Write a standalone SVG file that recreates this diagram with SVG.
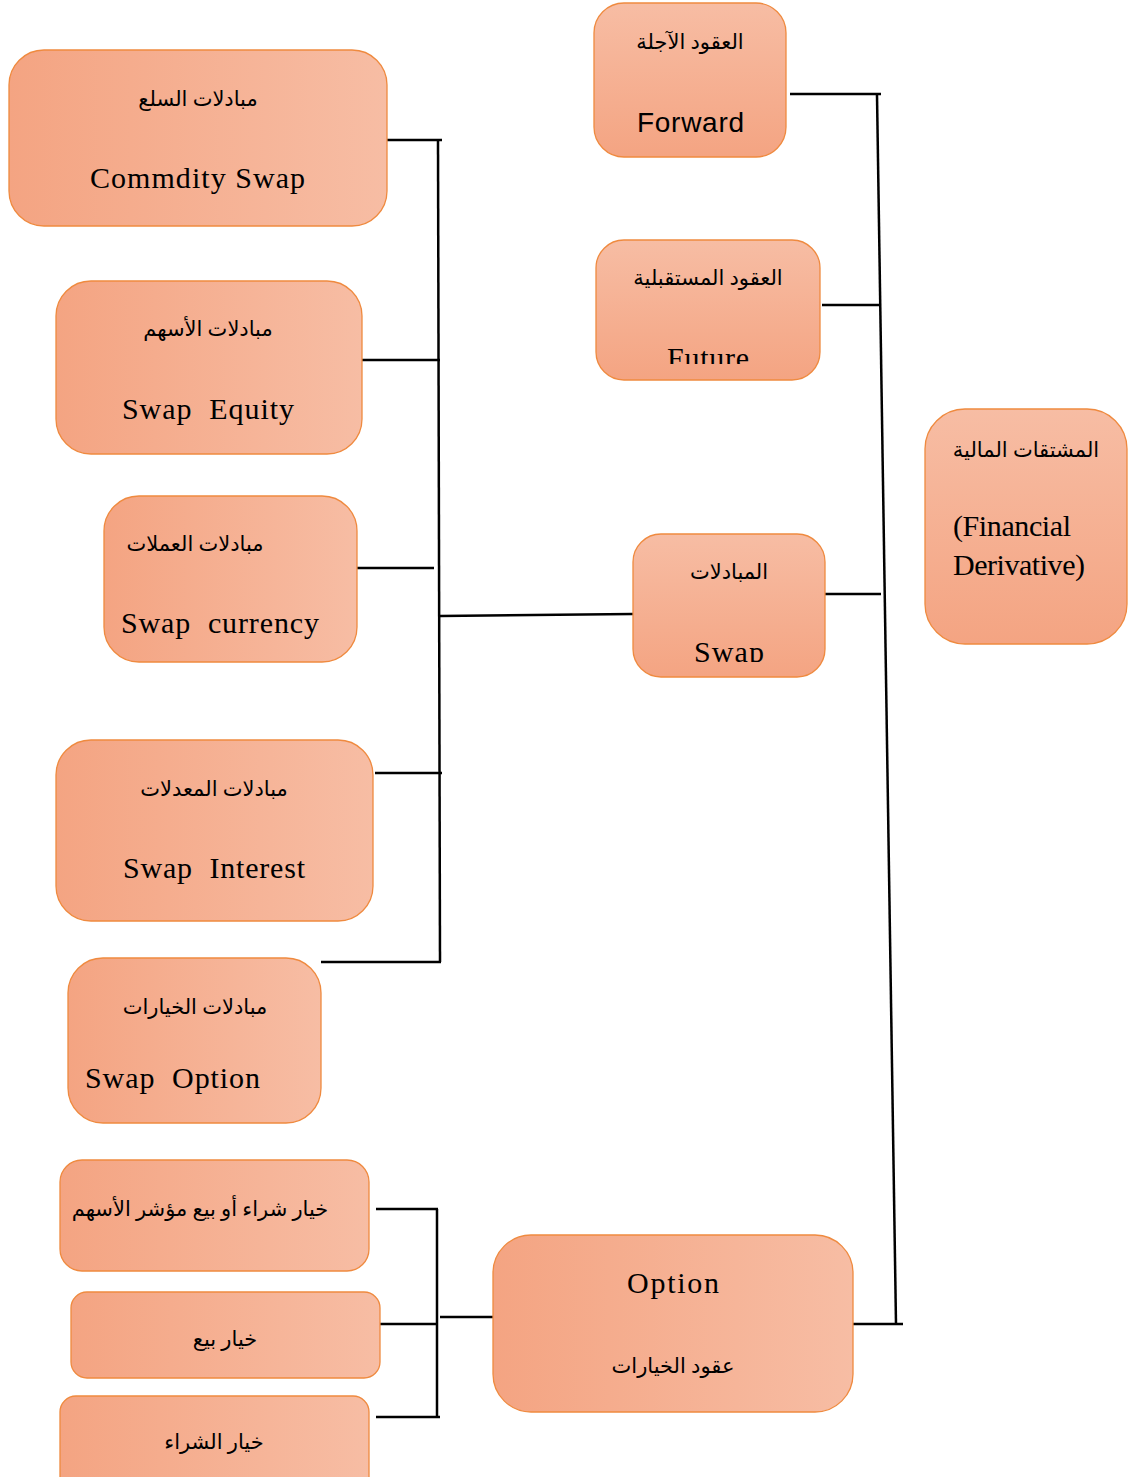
<svg xmlns="http://www.w3.org/2000/svg" width="1138" height="1477" viewBox="0 0 1138 1477">
<defs>
<linearGradient id="gh" x1="0" y1="0" x2="1" y2="0"><stop offset="0" stop-color="#F4A482"/><stop offset="1" stop-color="#F7BDA4"/></linearGradient>
<linearGradient id="gv" x1="0" y1="0" x2="0" y2="1"><stop offset="0" stop-color="#F7BDA4"/><stop offset="1" stop-color="#F4A482"/></linearGradient>
<clipPath id="cFut"><rect x="596" y="240" width="224" height="124"/></clipPath>
<clipPath id="cSwp"><rect x="633" y="534" width="192" height="128"/></clipPath>
</defs>
<style>
.h{fill:url(#gh);stroke:#EF8A3F;stroke-width:1.3}
.v{fill:url(#gv);stroke:#EF8A3F;stroke-width:1.3}
.ar{font-family:"Liberation Serif","DejaVu Sans",serif;font-size:21px;fill:#000;text-anchor:middle}
.en{font-family:"Liberation Serif",serif;font-size:30px;fill:#000}
.sa{font-family:"Liberation Sans",sans-serif;font-size:28px;fill:#000}
.c{stroke:#000;stroke-width:2.5;fill:none}
</style>
<rect width="1138" height="1477" fill="#fff"/>
<g id="connectors">
<line class="c" x1="387" y1="140" x2="442" y2="140"/>
<line class="c" x1="438" y1="141" x2="440" y2="962"/>
<line class="c" x1="362" y1="360" x2="440" y2="360"/>
<line class="c" x1="352" y1="568" x2="434" y2="568"/>
<line class="c" x1="440" y1="616" x2="633" y2="614"/>
<line class="c" x1="375" y1="773" x2="442" y2="773"/>
<line class="c" x1="321" y1="962" x2="441" y2="962"/>
<line class="c" x1="790" y1="94" x2="881" y2="94"/>
<line class="c" x1="877" y1="95" x2="896" y2="1324"/>
<line class="c" x1="822" y1="305" x2="881" y2="305"/>
<line class="c" x1="825" y1="594" x2="881" y2="594"/>
<line class="c" x1="853" y1="1324" x2="903" y2="1324"/>
<line class="c" x1="376" y1="1209" x2="438" y2="1209"/>
<line class="c" x1="437" y1="1209" x2="437" y2="1417"/>
<line class="c" x1="380" y1="1324" x2="437" y2="1324"/>
<line class="c" x1="376" y1="1417" x2="440" y2="1417"/>
<line class="c" x1="440" y1="1317" x2="496" y2="1317"/>
</g>
<g id="commodity-swap">
<rect class="h" x="9" y="50" width="378" height="176" rx="35"/>
<text class="ar" x="198" y="106">مبادلات السلع</text>
<text class="en" x="90" y="188" textLength="215" lengthAdjust="spacing">Commdity Swap</text>
</g>
<g id="swap-equity">
<rect class="h" x="56" y="281" width="306" height="173" rx="35"/>
<text class="ar" x="208" y="336">مبادلات الأسهم</text>
<text class="en" x="122" y="419" textLength="172" lengthAdjust="spacing" xml:space="preserve">Swap  Equity</text>
</g>
<g id="swap-currency">
<rect class="h" x="104" y="496" width="253" height="166" rx="35"/>
<text class="ar" x="195" y="551">مبادلات العملات</text>
<text class="en" x="121" y="633" textLength="198" lengthAdjust="spacing" xml:space="preserve">Swap  currency</text>
</g>
<g id="swap-interest">
<rect class="h" x="56" y="740" width="317" height="181" rx="35"/>
<text class="ar" x="214" y="796">مبادلات المعدلات</text>
<text class="en" x="123" y="878" textLength="182" lengthAdjust="spacing" xml:space="preserve">Swap  Interest</text>
</g>
<g id="swap-option">
<rect class="h" x="68" y="958" width="253" height="165" rx="35"/>
<text class="ar" x="195" y="1014">مبادلات الخيارات</text>
<text class="en" x="85" y="1088" textLength="175" lengthAdjust="spacing" xml:space="preserve">Swap  Option</text>
</g>
<g id="index-option">
<rect class="h" x="60" y="1160" width="309" height="111" rx="22"/>
<text class="ar" x="200" y="1216">خيار شراء أو بيع مؤشر الأسهم</text>
</g>
<g id="put-option">
<rect class="h" x="71" y="1292" width="309" height="86" rx="16"/>
<text class="ar" x="225" y="1346">خيار بيع</text>
</g>
<g id="call-option">
<rect class="h" x="60" y="1396" width="309" height="100" rx="16"/>
<text class="ar" x="214" y="1449">خيار الشراء</text>
</g>
<g id="option">
<rect class="h" x="493" y="1235" width="360" height="177" rx="38"/>
<text class="en" x="627" y="1293" textLength="92" lengthAdjust="spacing">Option</text>
<text class="ar" x="673" y="1373">عقود الخيارات</text>
</g>
<g id="forward">
<rect class="v" x="594" y="3" width="192" height="154" rx="30"/>
<text class="ar" x="690" y="49">العقود الآجلة</text>
<text class="sa" x="637" y="132" textLength="107" lengthAdjust="spacing">Forward</text>
</g>
<g id="future">
<rect class="v" x="596" y="240" width="224" height="140" rx="28"/>
<text class="ar" x="708" y="285">العقود المستقبلية</text>
<text class="en" x="667" y="368" textLength="82" lengthAdjust="spacing" clip-path="url(#cFut)">Future</text>
</g>
<g id="swap">
<rect class="v" x="633" y="534" width="192" height="143" rx="28"/>
<text class="ar" x="729" y="579">المبادلات</text>
<text class="en" x="694" y="662" textLength="70" lengthAdjust="spacing" clip-path="url(#cSwp)">Swap</text>
</g>
<g id="financial-derivative">
<rect class="v" x="925" y="409" width="202" height="235" rx="40"/>
<text class="ar" x="1026" y="457">المشتقات المالية</text>
<text class="en" x="953" y="536" textLength="118" lengthAdjust="spacing">(Financial</text>
<text class="en" x="953" y="575" textLength="132" lengthAdjust="spacing">Derivative)</text>
</g>
</svg>
